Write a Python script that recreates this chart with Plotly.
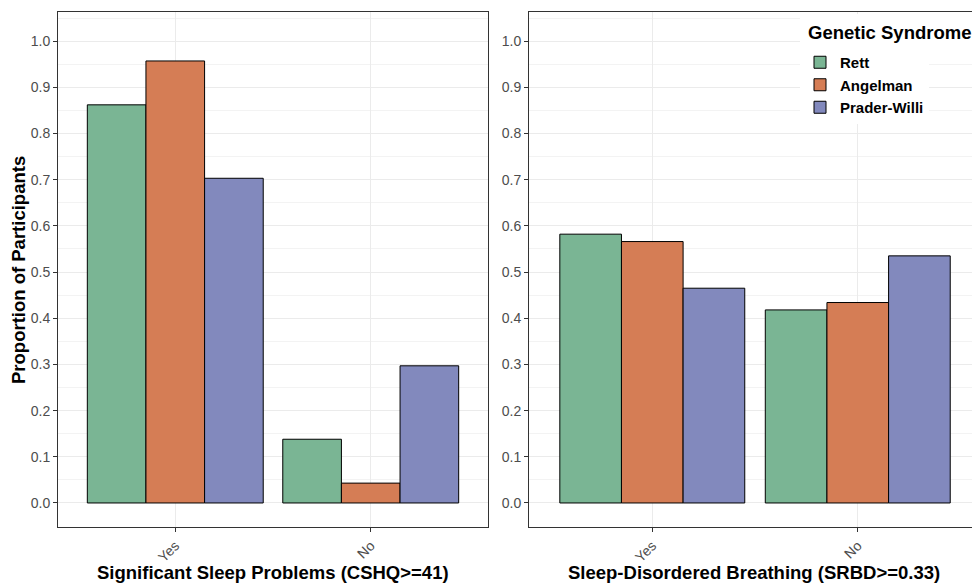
import plotly.graph_objects as go

categories = ["Yes", "No"]
syndromes = ["Rett", "Angelman", "Prader-Willi"]
colors = ["#7AB594", "#D57D55", "#8289BD"]

# Significant Sleep Problems (CSHQ>=41)
cshq = {
    "Rett": [0.862, 0.138],
    "Angelman": [0.957, 0.043],
    "Prader-Willi": [0.703, 0.297],
}
# Sleep-Disordered Breathing (SRBD>=0.33)
srbd = {
    "Rett": [0.582, 0.418],
    "Angelman": [0.566, 0.434],
    "Prader-Willi": [0.465, 0.535],
}

y_ticks = [round(i * 0.1, 1) for i in range(11)]
y_ticktext = [f"{v:.1f}" for v in y_ticks]

FONT = "Liberation Sans, Arial, sans-serif"

fig = go.Figure()
for name, col in zip(syndromes, colors):
    fig.add_trace(go.Bar(x=categories, y=cshq[name], name=f"<b>{name}</b>",
                         marker=dict(color=col, line=dict(color="black", width=1)),
                         xaxis="x", yaxis="y", legendgroup=name, showlegend=True))
for name, col in zip(syndromes, colors):
    fig.add_trace(go.Bar(x=categories, y=srbd[name], name=f"<b>{name}</b>",
                         marker=dict(color=col, line=dict(color="black", width=1)),
                         xaxis="x2", yaxis="y2", legendgroup=name, showlegend=False))

W, H = 972, 583
ml, mr, mt, mb = 58, 0, 12, 56
pw = W - ml - mr
ph = H - mt - mb
d1 = [0, (488 - ml) / pw]
d2 = [(529 - ml) / pw, 1]


def px_x(p):
    return (p - ml) / pw


def px_y(p):
    return (H - mb - p) / ph


tickfont = dict(family=FONT, size=14, color="#4d4d4d")
titlefont = dict(family=FONT, size=18.5, color="black")

common_y = dict(range=[-0.052, 1.063], tickvals=y_ticks, ticktext=y_ticktext, tickfont=tickfont,
                showgrid=True, gridcolor="#ebebeb", gridwidth=1,
                minor=dict(dtick=0.05, showgrid=True, gridcolor="#f3f3f3", gridwidth=1),
                zeroline=False, showline=True, linecolor="#333333", linewidth=1,
                ticks="outside", ticklen=4, tickcolor="#333333", automargin=False)
common_x = dict(tickfont=tickfont, tickangle=-45, showgrid=True, gridcolor="#ebebeb",
                zeroline=False, showline=True, linecolor="#333333", linewidth=1, mirror=True,
                ticks="outside", ticklen=4, tickcolor="#333333", type="category", automargin=False)

fig.update_layout(
    width=W, height=H,
    margin=dict(l=ml, r=mr, t=mt, b=mb),
    paper_bgcolor="white", plot_bgcolor="white",
    barmode="group", bargap=0.1, bargroupgap=0,
    font=dict(family=FONT),
    xaxis=dict(domain=d1, range=[-0.6, 1.6], anchor="y", **common_x),
    yaxis=dict(domain=[0, 1], anchor="x", mirror=True, **common_y),
    xaxis2=dict(domain=d2, range=[-0.6, 1.556], anchor="y2", **common_x),
    yaxis2=dict(domain=[0, 1], anchor="x2", mirror=False, **common_y),
    legend=dict(x=px_x(800), y=px_y(46), xanchor="left", yanchor="top",
                bgcolor="white", borderwidth=0,
                font=dict(family=FONT, size=15, color="black"),
                tracegroupgap=0, itemwidth=30),
    annotations=[
        dict(text="<b>Genetic Syndrome</b>", x=px_x(800), xref="paper", y=px_y(33), yref="paper",
             showarrow=False, font=titlefont, xanchor="left", yanchor="middle",
             bgcolor="white", borderpad=8, borderwidth=0),
        dict(text="<b>Significant Sleep Problems (CSHQ>=41)</b>", x=(d1[0] + d1[1]) / 2, xref="paper",
             y=px_y(572), yref="paper", showarrow=False, font=titlefont,
             xanchor="center", yanchor="middle"),
        dict(text="<b>Sleep-Disordered Breathing (SRBD>=0.33)</b>", x=px_x(754), xref="paper",
             y=px_y(572), yref="paper", showarrow=False, font=titlefont,
             xanchor="center", yanchor="middle"),
        dict(text="<b>Proportion of Participants</b>", x=px_x(18), xref="paper",
             y=px_y(270), yref="paper", showarrow=False, font=titlefont,
             textangle=-90, xanchor="center", yanchor="middle"),
    ],
)

fig.write_html("out.html", config={"displayModeBar": False},
               post_script="document.body.style.margin='0';document.body.style.padding='0';"
                           "document.documentElement.style.overflow='hidden';")
